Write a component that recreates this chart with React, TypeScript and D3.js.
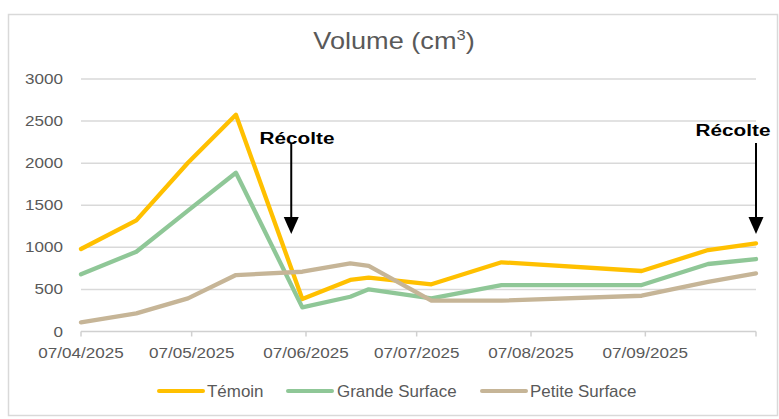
import React from "react";
import * as d3 from "d3";

const dates = [
  "2025-04-07", "2025-04-22", "2025-05-06", "2025-05-19", "2025-06-06", "2025-06-19",
  "2025-06-24", "2025-07-11", "2025-07-30", "2025-09-06", "2025-09-24", "2025-10-07",
];
const temoin = [980, 1320, 2005, 2575, 386, 612, 639, 561, 822, 719, 968, 1048];
const grandeSurface = [679, 948, 1436, 1886, 287, 413, 501, 394, 552, 552, 802, 861];
const petiteSurface = [109, 216, 394, 671, 710, 810, 781, 366, 366, 425, 590, 691];

const seriesNames = ["Témoin", "Grande Surface", "Petite Surface"];
const seriesColors = ["#FFC000", "#8FC797", "#C6B597"];

const yTicks = [0, 500, 1000, 1500, 2000, 2500, 3000];
const xTickDates = ["2025-04-07", "2025-05-07", "2025-06-07", "2025-07-07", "2025-08-07", "2025-09-07", "2025-10-07"];
const xTickLabels = ["07/04/2025", "07/05/2025", "07/06/2025", "07/07/2025", "07/08/2025", "07/09/2025", ""];

const annotationDates = ["2025-06-03", "2025-10-07"];
const annotationLabel = "Récolte";
const title = "Volume (cm";

const parse = d3.utcParse("%Y-%m-%d");
const SX = 1.22;

export default function App() {
  const W = 779, H = 419;
  const x = d3.scaleUtc().domain([parse("2025-04-07")!, parse("2025-10-07")!]).range([81, 756]);
  const y = d3.scaleLinear().domain([0, 3000]).range([331.5, 79]);
  const allSeries = [temoin, grandeSurface, petiteSurface];
  const line = d3.line<[Date, number]>().x((d) => x(d[0])).y((d) => y(d[1]));
  const labelFont = "'Liberation Sans', Arial, sans-serif";

  const legendItems = [
    { sx: 159, tx: 207 },
    { sx: 288, tx: 337 },
    { sx: 482, tx: 530 },
  ];
  const annY = [144, 136];
  const annTextX = [297, 733];

  return (
    <svg width={W} height={H} style={{ position: "absolute", left: 0, top: 0, background: "#fff" }}>
      <rect x={8.5} y={14.5} width={769} height={401} fill="#fff" stroke="#d9d9d9" strokeWidth={1.5} />
      <text transform={`translate(394,49) scale(1.18,1)`} textAnchor="middle" fontFamily={labelFont} fontSize={23} fill="#595959">
        {title}
        <tspan fontSize={14} dy={-9}>3</tspan>
        <tspan dy={9}>)</tspan>
      </text>
      {yTicks.map((t) => (
        <g key={t}>
          {t > 0 && <line x1={81} x2={756} y1={y(t)} y2={y(t)} stroke="#d9d9d9" strokeWidth={1.5} />}
          <text transform={`translate(63,${y(t) + 5}) scale(${SX},1)`} textAnchor="end" fontFamily={labelFont} fontSize={14} fill="#595959">{t}</text>
        </g>
      ))}
      <line x1={81} x2={756} y1={y(0)} y2={y(0)} stroke="#d0d0d0" strokeWidth={1.5} />
      {xTickDates.map((d, i) => {
        const xx = x(parse(d)!);
        return (
          <g key={d}>
            <line x1={xx} x2={xx} y1={y(0)} y2={y(0) + 5} stroke="#d0d0d0" strokeWidth={1.5} />
            <text transform={`translate(${xx},358) scale(${SX},1)`} textAnchor="middle" fontFamily={labelFont} fontSize={14} fill="#595959">{xTickLabels[i]}</text>
          </g>
        );
      })}
      {allSeries.map((s, i) => (
        <path key={i} d={line(s.map((v, j) => [parse(dates[j])!, v]))!} fill="none" stroke={seriesColors[i]} strokeWidth={4.3} strokeLinejoin="round" strokeLinecap="round" />
      ))}
      {annotationDates.map((d, i) => {
        const xx = x(parse(d)!);
        return (
          <g key={d}>
            <text transform={`translate(${annTextX[i]},${annY[i]}) scale(${SX},1)`} textAnchor="middle" fontFamily={labelFont} fontWeight="bold" fontSize={17} fill="#000">{annotationLabel}</text>
            <line x1={xx} x2={xx} y1={143} y2={219} stroke="#000" strokeWidth={2} />
            <path d={`M${xx - 7.5},217 L${xx + 7.5},217 L${xx},234 Z`} fill="#000" />
          </g>
        );
      })}
      {seriesNames.map((n, i) => (
        <g key={n}>
          <line x1={legendItems[i].sx} x2={legendItems[i].sx + 44} y1={391} y2={391} stroke={seriesColors[i]} strokeWidth={4} strokeLinecap="round" />
          <text transform={`translate(${legendItems[i].tx},396.5) scale(1.06,1)`} fontFamily={labelFont} fontSize={16} fill="#595959">{n}</text>
        </g>
      ))}
    </svg>
  );
}
